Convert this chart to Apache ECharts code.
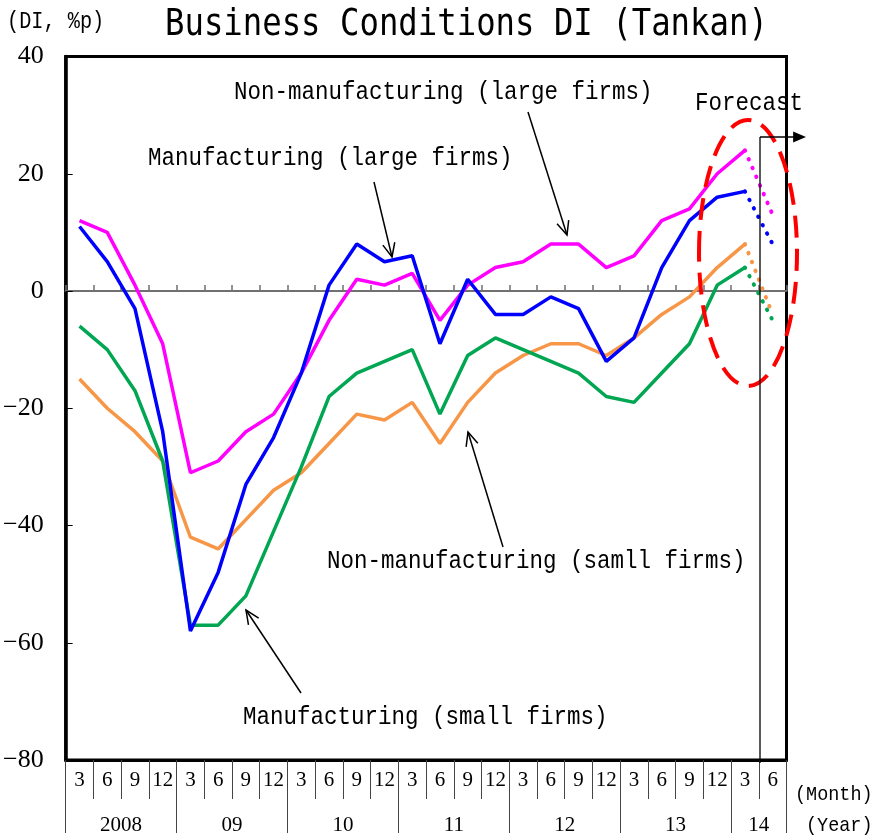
<!DOCTYPE html>
<html>
<head>
<meta charset="utf-8">
<script src="https://cdn.jsdelivr.net/npm/echarts@6/dist/echarts.min.js"></script>
<style>
  html, body { margin: 0; padding: 0; background: #fff; }
  #chart { width: 879px; height: 836px; }
</style>
</head>
<body>
<div id="chart"></div>
<script>
// x categories (quarter months) and year groups
var monthLabels = ['3','6','9','12','3','6','9','12','3','6','9','12','3','6','9','12','3','6','9','12','3','6','9','12','3','6'];
var yearLabels = ['2008','09','10','11','12','13','14'];
var yearSpans = [4, 4, 4, 4, 4, 4, 2];

// DI values, 2008/3 .. 2014/3 (actual)
var mfgLarge    = [11, 5, -3, -24, -58, -48, -33, -25, -14, 1, 8, 5, 6, -9, 2, -4, -4, -1, -3, -12, -8, 4, 12, 16, 17];
var nonMfgLarge = [12, 10, 1, -9, -31, -29, -24, -21, -14, -5, 2, 1, 3, -5, 1, 4, 5, 8, 8, 4, 6, 12, 14, 20, 24];
var mfgSmall    = [-6, -10, -17, -29, -57, -57, -52, -41, -30, -18, -14, -12, -10, -21, -11, -8, -10, -12, -14, -18, -19, -14, -9, 1, 4];
var nonMfgSmall = [-15, -20, -24, -29, -42, -44, -39, -34, -31, -26, -21, -22, -19, -26, -19, -14, -11, -9, -9, -11, -8, -4, -1, 4, 8];

// forecast for 2014/6
var fcMfgLarge = 8;
var fcNonMfgLarge = 13;
var fcMfgSmall = -5;
var fcNonMfgSmall = -4;

var chart = echarts.init(document.getElementById('chart'));

// year axis ticks / label positions from spans
var yearTicks = [0];
var yearLabelPos = [];
var acc = 0;
yearSpans.forEach(function (s) {
  yearLabelPos.push(acc + s / 2);
  acc += s;
  yearTicks.push(acc);
});

function forecastData(arr, fc) {
  var d = [];
  for (var i = 0; i < arr.length - 1; i++) d.push(null);
  d.push(arr[arr.length - 1]);
  d.push(fc);
  return d;
}

function solid(name, data, color) {
  return {
    name: name, type: 'line', xAxisIndex: 0, data: data,
    showSymbol: false, symbol: 'none', z: 3,
    lineStyle: { color: color, width: 3.5 }
  };
}
function dotted(name, data, color) {
  return {
    name: name + ' forecast', type: 'line', xAxisIndex: 0, data: data,
    showSymbol: false, symbol: 'none', z: 3,
    lineStyle: { color: color, width: 4, type: [0.5, 9], cap: 'round' }
  };
}

var monoFont = 'Liberation Mono';

function label(text, x, y, size, sx) {
  return {
    type: 'text', x: x, y: y, scaleX: sx || 1, z: 10,
    style: {
      text: text, fill: '#000', fontFamily: monoFont, fontSize: size,
      textAlign: 'left', textVerticalAlign: 'middle', align: 'left', verticalAlign: 'middle'
    }
  };
}

function arrow(x1, y1, x2, y2, filled) {
  var a = Math.atan2(y2 - y1, x2 - x1);
  var L = filled ? 14 : 15, th = filled ? 0.4 : 0.42;
  var p1 = [x2 - L * Math.cos(a - th), y2 - L * Math.sin(a - th)];
  var p2 = [x2 - L * Math.cos(a + th), y2 - L * Math.sin(a + th)];
  var out = [{
    type: 'line', z: 10,
    shape: { x1: x1, y1: y1, x2: filled ? x2 - 10 * Math.cos(a) : x2, y2: filled ? y2 - 10 * Math.sin(a) : y2 },
    style: { stroke: '#000', lineWidth: 1.5 }
  }];
  if (filled) {
    out.push({ type: 'polygon', z: 10, shape: { points: [p1, [x2, y2], p2] }, style: { fill: '#000' } });
  } else {
    out.push({ type: 'polyline', z: 10, shape: { points: [p1, [x2, y2], p2] }, style: { stroke: '#000', lineWidth: 1.5, fill: null } });
  }
  return out;
}

var graphics = [
  {
    type: 'text', x: 165, y: 25, scaleX: 0.85, z: 10,
    style: {
      text: 'Business Conditions DI (Tankan)', fill: '#000', fontFamily: 'DejaVu Sans Mono', fontSize: 38,
      textAlign: 'left', textVerticalAlign: 'middle', align: 'left', verticalAlign: 'middle'
    }
  },
  label('(DI, %p)', 7, 22, 23, 0.88),
  label('Non-manufacturing (large firms)', 234, 92, 26, 0.865),
  label('Manufacturing (large firms)', 148, 158, 26, 0.865),
  label('Non-manufacturing (samll firms)', 327, 561, 26, 0.865),
  label('Manufacturing (small firms)', 243, 717, 26, 0.865),
  label('Forecast', 695, 103, 26, 0.865),
  label('(Month)', 795, 794, 21, 0.88),
  label('(Year)', 806, 825, 21, 0.88),
  {
    type: 'ellipse', z: 9,
    shape: { cx: 748, cy: 253, rx: 49, ry: 133 },
    style: { stroke: '#ff0000', lineWidth: 4, fill: null, lineDash: [22, 11] }
  },
  {
    type: 'line', z: 10,
    shape: { x1: 760, y1: 137, x2: 760, y2: 763 },
    style: { stroke: '#000', lineWidth: 1.3 }
  }
];
graphics = graphics
  .concat(arrow(528, 112, 567, 235, false))
  .concat(arrow(374, 182, 392, 257, false))
  .concat(arrow(503, 547, 468, 432, false))
  .concat(arrow(301, 693, 246, 610, false))
  .concat(arrow(760, 137, 806, 137, true));

var option = {
  backgroundColor: '#ffffff',
  animation: false,
  grid: {
    left: 65, right: 92.5, top: 56.5, bottom: 73.5,
    show: true, borderColor: '#000', borderWidth: 3
  },
  xAxis: [
    {
      type: 'category', data: monthLabels, position: 'bottom',
      axisLine: { onZero: true, lineStyle: { color: '#707070', width: 2 } },
      axisTick: { show: true, inside: true, length: 6, interval: 0, lineStyle: { color: '#707070', width: 1.5 } },
      axisLabel: { show: false },
      splitLine: { show: false }
    },
    {
      type: 'category', data: monthLabels, position: 'bottom', offset: 0,
      axisLine: { onZero: false, lineStyle: { color: '#000', width: 3 } },
      axisTick: { show: true, interval: 0, length: 39, lineStyle: { color: '#444', width: 1 } },
      axisLabel: { interval: 0, margin: 10, fontFamily: 'Liberation Serif', fontSize: 21, color: '#000' },
      splitLine: { show: false }
    },
    {
      type: 'value', min: 0, max: 26, position: 'bottom', offset: 0,
      axisLine: { show: false, onZero: false },
      axisTick: { show: true, customValues: yearTicks, length: 73, lineStyle: { color: '#444', width: 1 } },
      axisLabel: {
        customValues: yearLabelPos, margin: 55, fontFamily: 'Liberation Serif', fontSize: 21, color: '#000',
        formatter: function (v) {
          var i = yearLabelPos.indexOf(v);
          return i >= 0 ? yearLabels[i] : '';
        }
      },
      splitLine: { show: false }
    }
  ],
  yAxis: {
    type: 'value', min: -80, max: 40, interval: 20,
    axisLine: { show: true, lineStyle: { color: '#000', width: 3.5 } },
    axisTick: { show: true, inside: true, length: 7, lineStyle: { color: '#000', width: 1 } },
    axisLabel: {
      margin: 22, fontFamily: 'Liberation Serif', fontSize: 26, color: '#000',
      formatter: function (v) { return String(v).replace('-', '\u2212'); }
    },
    splitLine: { show: false }
  },
  series: [
    solid('Non-manufacturing (small firms)', nonMfgSmall, '#F79646'),
    solid('Manufacturing (small firms)', mfgSmall, '#00A651'),
    solid('Non-manufacturing (large firms)', nonMfgLarge, '#FF00FF'),
    solid('Manufacturing (large firms)', mfgLarge, '#0000FF'),
    dotted('Non-manufacturing (small firms)', forecastData(nonMfgSmall, fcNonMfgSmall), '#F79646'),
    dotted('Manufacturing (small firms)', forecastData(mfgSmall, fcMfgSmall), '#00A651'),
    dotted('Non-manufacturing (large firms)', forecastData(nonMfgLarge, fcNonMfgLarge), '#FF00FF'),
    dotted('Manufacturing (large firms)', forecastData(mfgLarge, fcMfgLarge), '#0000FF')
  ],
  graphic: graphics
};

chart.setOption(option);
</script>
</body>
</html>
